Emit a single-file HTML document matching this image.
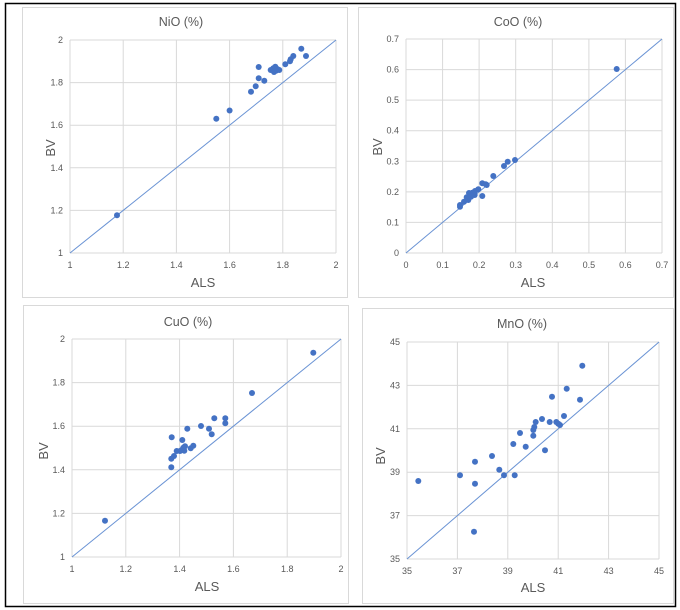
<!DOCTYPE html>
<html><head><meta charset="utf-8"><style>
body{margin:0;background:#fff}
svg{display:block;font-family:"Liberation Sans",sans-serif}
.t{font-size:9px;fill:#595959}
.ti{font-size:12.5px;fill:#595959}
.ax{font-size:13px;fill:#595959}
.g line{stroke:#d9d9d9;stroke-width:1}
.d circle{fill:#4472C4}
</style></head><body>
<svg width="680" height="610" viewBox="0 0 680 610">
<rect x="0" y="0" width="680" height="610" fill="#fff"/>
<rect x="5.5" y="3.5" width="670" height="603" fill="none" stroke="#000" stroke-width="1.5"/>
<rect x="22.5" y="7.5" width="325" height="290" fill="none" stroke="#d9d9d9"/>
<rect x="358.5" y="7.5" width="315" height="290" fill="none" stroke="#d9d9d9"/>
<rect x="23.5" y="305.5" width="325" height="298" fill="none" stroke="#d9d9d9"/>
<rect x="362.5" y="308.5" width="311" height="295" fill="none" stroke="#d9d9d9"/>

<!-- Panel 1 NiO -->
<g class="g">
<line x1="70" y1="40" x2="70" y2="253"/><line x1="123.2" y1="40" x2="123.2" y2="253"/><line x1="176.4" y1="40" x2="176.4" y2="253"/><line x1="229.6" y1="40" x2="229.6" y2="253"/><line x1="282.8" y1="40" x2="282.8" y2="253"/><line x1="336" y1="40" x2="336" y2="253"/>
<line x1="70" y1="40" x2="336" y2="40"/><line x1="70" y1="82.6" x2="336" y2="82.6"/><line x1="70" y1="125.2" x2="336" y2="125.2"/><line x1="70" y1="167.8" x2="336" y2="167.8"/><line x1="70" y1="210.4" x2="336" y2="210.4"/><line x1="70" y1="253" x2="336" y2="253"/>
</g>
<line x1="70" y1="253" x2="336" y2="40" stroke="#6a93d4" stroke-width="1"/>
<g class="d">
<circle cx="117" cy="215.3" r="3"/><circle cx="216.3" cy="118.8" r="3"/><circle cx="229.6" cy="110.5" r="3"/><circle cx="251" cy="91.7" r="3"/><circle cx="255.7" cy="86.3" r="3"/><circle cx="258.7" cy="78.3" r="3"/><circle cx="258.7" cy="67" r="3"/><circle cx="264.3" cy="80.7" r="3"/>
<circle cx="270.7" cy="70" r="3"/><circle cx="273.3" cy="68.3" r="3"/><circle cx="275.3" cy="66.7" r="3"/><circle cx="277.3" cy="69" r="3"/><circle cx="279.3" cy="70" r="3"/><circle cx="274" cy="72" r="3"/><circle cx="276" cy="70.7" r="3"/>
<circle cx="285.3" cy="64.3" r="3"/><circle cx="290" cy="61.3" r="3"/><circle cx="290.7" cy="59.3" r="3"/><circle cx="293.3" cy="56" r="3"/><circle cx="301.3" cy="48.7" r="3"/><circle cx="306" cy="56" r="3"/>
</g>
<g class="t" text-anchor="end">
<text x="63" y="43">2</text><text x="63" y="85.6">1.8</text><text x="63" y="128.2">1.6</text><text x="63" y="170.8">1.4</text><text x="63" y="213.4">1.2</text><text x="63" y="256">1</text>
</g>
<g class="t" text-anchor="middle">
<text x="70" y="268">1</text><text x="123.2" y="268">1.2</text><text x="176.4" y="268">1.4</text><text x="229.6" y="268">1.6</text><text x="282.8" y="268">1.8</text><text x="336" y="268">2</text>
</g>
<text class="ti" x="181" y="26" text-anchor="middle">NiO (%)</text>
<text class="ax" x="203" y="287" text-anchor="middle">ALS</text>
<text class="ax" x="0" y="0" text-anchor="middle" transform="translate(55,148) rotate(-90)">BV</text>

<!-- Panel 2 CoO -->
<g class="g">
<line x1="406" y1="39" x2="406" y2="253"/><line x1="442.6" y1="39" x2="442.6" y2="253"/><line x1="479.1" y1="39" x2="479.1" y2="253"/><line x1="515.7" y1="39" x2="515.7" y2="253"/><line x1="552.3" y1="39" x2="552.3" y2="253"/><line x1="588.9" y1="39" x2="588.9" y2="253"/><line x1="625.4" y1="39" x2="625.4" y2="253"/><line x1="662" y1="39" x2="662" y2="253"/>
<line x1="406" y1="39" x2="662" y2="39"/><line x1="406" y1="69.6" x2="662" y2="69.6"/><line x1="406" y1="100.1" x2="662" y2="100.1"/><line x1="406" y1="130.7" x2="662" y2="130.7"/><line x1="406" y1="161.3" x2="662" y2="161.3"/><line x1="406" y1="191.9" x2="662" y2="191.9"/><line x1="406" y1="222.4" x2="662" y2="222.4"/><line x1="406" y1="253" x2="662" y2="253"/>
</g>
<line x1="406" y1="253" x2="662" y2="39" stroke="#6a93d4" stroke-width="1"/>
<g class="d">
<circle cx="460" cy="205" r="3"/><circle cx="460" cy="206.7" r="3"/><circle cx="464" cy="201.7" r="3"/><circle cx="466.7" cy="197.3" r="3"/><circle cx="468.3" cy="200" r="3"/><circle cx="471" cy="196.7" r="3"/><circle cx="472.3" cy="192.7" r="3"/><circle cx="474.7" cy="195" r="3"/><circle cx="478.3" cy="189.3" r="3"/><circle cx="482.3" cy="183.3" r="3"/><circle cx="485.7" cy="184.3" r="3"/><circle cx="482.3" cy="196" r="3"/><circle cx="486.7" cy="185" r="3"/><circle cx="493.3" cy="176" r="3"/><circle cx="504" cy="166" r="3"/><circle cx="507.7" cy="161.7" r="3"/><circle cx="515" cy="160" r="3"/><circle cx="616.7" cy="69" r="3"/><circle cx="475" cy="191" r="3"/><circle cx="469" cy="193" r="3"/>
</g>
<g class="t" text-anchor="end">
<text x="399" y="42">0.7</text><text x="399" y="72.6">0.6</text><text x="399" y="103.1">0.5</text><text x="399" y="133.7">0.4</text><text x="399" y="164.3">0.3</text><text x="399" y="194.9">0.2</text><text x="399" y="225.4">0.1</text><text x="399" y="256">0</text>
</g>
<g class="t" text-anchor="middle">
<text x="406" y="268">0</text><text x="442.6" y="268">0.1</text><text x="479.1" y="268">0.2</text><text x="515.7" y="268">0.3</text><text x="552.3" y="268">0.4</text><text x="588.9" y="268">0.5</text><text x="625.4" y="268">0.6</text><text x="662" y="268">0.7</text>
</g>
<text class="ti" x="518" y="26" text-anchor="middle">CoO (%)</text>
<text class="ax" x="533" y="287" text-anchor="middle">ALS</text>
<text class="ax" x="0" y="0" text-anchor="middle" transform="translate(382,147) rotate(-90)">BV</text>

<!-- Panel 3 CuO -->
<g class="g">
<line x1="72" y1="339" x2="72" y2="557"/><line x1="125.8" y1="339" x2="125.8" y2="557"/><line x1="179.6" y1="339" x2="179.6" y2="557"/><line x1="233.4" y1="339" x2="233.4" y2="557"/><line x1="287.2" y1="339" x2="287.2" y2="557"/><line x1="341" y1="339" x2="341" y2="557"/>
<line x1="72" y1="339" x2="341" y2="339"/><line x1="72" y1="382.6" x2="341" y2="382.6"/><line x1="72" y1="426.2" x2="341" y2="426.2"/><line x1="72" y1="469.8" x2="341" y2="469.8"/><line x1="72" y1="513.4" x2="341" y2="513.4"/><line x1="72" y1="557" x2="341" y2="557"/>
</g>
<line x1="72" y1="557" x2="341" y2="339" stroke="#6a93d4" stroke-width="1"/>
<g class="d">
<circle cx="105" cy="520.7" r="3"/><circle cx="171.7" cy="437.3" r="3"/><circle cx="171.3" cy="458.7" r="3"/><circle cx="171.3" cy="467.3" r="3"/><circle cx="174" cy="456" r="3"/><circle cx="176.7" cy="451" r="3"/><circle cx="180" cy="451" r="3"/><circle cx="181.7" cy="450" r="3"/><circle cx="182.3" cy="440" r="3"/><circle cx="183.3" cy="447.7" r="3"/><circle cx="184.3" cy="450.7" r="3"/><circle cx="185" cy="446.3" r="3"/><circle cx="187.3" cy="428.7" r="3"/><circle cx="190.7" cy="448.3" r="3"/><circle cx="193.3" cy="445.7" r="3"/><circle cx="201" cy="426" r="3"/><circle cx="209" cy="428.7" r="3"/><circle cx="211.7" cy="434.3" r="3"/><circle cx="214.3" cy="418.3" r="3"/><circle cx="225.3" cy="418.3" r="3"/><circle cx="225.3" cy="423.3" r="3"/><circle cx="252" cy="393" r="3"/><circle cx="313.3" cy="352.7" r="3"/>
</g>
<g class="t" text-anchor="end">
<text x="65" y="342">2</text><text x="65" y="385.6">1.8</text><text x="65" y="429.2">1.6</text><text x="65" y="472.8">1.4</text><text x="65" y="516.4">1.2</text><text x="65" y="560">1</text>
</g>
<g class="t" text-anchor="middle">
<text x="72" y="572">1</text><text x="125.8" y="572">1.2</text><text x="179.6" y="572">1.4</text><text x="233.4" y="572">1.6</text><text x="287.2" y="572">1.8</text><text x="341" y="572">2</text>
</g>
<text class="ti" x="188" y="326" text-anchor="middle">CuO (%)</text>
<text class="ax" x="207" y="591" text-anchor="middle">ALS</text>
<text class="ax" x="0" y="0" text-anchor="middle" transform="translate(48,451) rotate(-90)">BV</text>

<!-- Panel 4 MnO -->
<g class="g">
<line x1="407" y1="342" x2="407" y2="559"/><line x1="457.4" y1="342" x2="457.4" y2="559"/><line x1="507.8" y1="342" x2="507.8" y2="559"/><line x1="558.2" y1="342" x2="558.2" y2="559"/><line x1="608.6" y1="342" x2="608.6" y2="559"/><line x1="659" y1="342" x2="659" y2="559"/>
<line x1="407" y1="342" x2="659" y2="342"/><line x1="407" y1="385.4" x2="659" y2="385.4"/><line x1="407" y1="428.8" x2="659" y2="428.8"/><line x1="407" y1="472.2" x2="659" y2="472.2"/><line x1="407" y1="515.6" x2="659" y2="515.6"/><line x1="407" y1="559" x2="659" y2="559"/>
</g>
<line x1="407" y1="559" x2="659" y2="342" stroke="#6a93d4" stroke-width="1"/>
<g class="d">
<circle cx="418.3" cy="481" r="3"/><circle cx="460" cy="475.3" r="3"/><circle cx="475" cy="461.7" r="3"/><circle cx="475" cy="483.7" r="3"/><circle cx="474" cy="531.7" r="3"/><circle cx="492" cy="456" r="3"/><circle cx="499.3" cy="469.7" r="3"/><circle cx="504" cy="475.3" r="3"/><circle cx="513.3" cy="444" r="3"/><circle cx="514.7" cy="475.3" r="3"/><circle cx="520" cy="433" r="3"/><circle cx="525.7" cy="446.7" r="3"/><circle cx="533.3" cy="435.7" r="3"/><circle cx="533.3" cy="430" r="3"/><circle cx="534.3" cy="427" r="3"/><circle cx="535.7" cy="422" r="3"/><circle cx="542" cy="419" r="3"/><circle cx="545" cy="450.3" r="3"/><circle cx="549.7" cy="422" r="3"/><circle cx="552" cy="396.7" r="3"/><circle cx="556.3" cy="422" r="3"/><circle cx="558.3" cy="423.7" r="3"/><circle cx="560" cy="425" r="3"/><circle cx="564" cy="416" r="3"/><circle cx="566.7" cy="388.7" r="3"/><circle cx="580" cy="399.7" r="3"/><circle cx="582.3" cy="365.7" r="3"/>
</g>
<g class="t" text-anchor="end">
<text x="400" y="345">45</text><text x="400" y="388.4">43</text><text x="400" y="431.8">41</text><text x="400" y="475.2">39</text><text x="400" y="518.6">37</text><text x="400" y="562">35</text>
</g>
<g class="t" text-anchor="middle">
<text x="407" y="574">35</text><text x="457.4" y="574">37</text><text x="507.8" y="574">39</text><text x="558.2" y="574">41</text><text x="608.6" y="574">43</text><text x="659" y="574">45</text>
</g>
<text class="ti" x="522" y="328" text-anchor="middle">MnO (%)</text>
<text class="ax" x="533" y="592" text-anchor="middle">ALS</text>
<text class="ax" x="0" y="0" text-anchor="middle" transform="translate(385,456) rotate(-90)">BV</text>
</svg>
</body></html>
